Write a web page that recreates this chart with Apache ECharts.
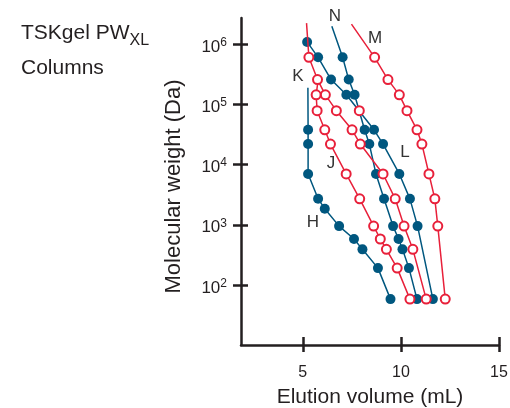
<!DOCTYPE html>
<html><head><meta charset="utf-8">
<script src="https://cdn.jsdelivr.net/npm/echarts@6/dist/echarts.min.js"></script>
<style>html,body{margin:0;padding:0;background:#fff}#c{width:510px;height:408px}</style>
</head><body><div id="c"></div>
<script>
// Elution volume (mL) and molecular weight (Da) for each column curve.
const H_vol = [5.26, 5.27, 5.27, 5.27, 5.78, 6.12, 6.85, 7.61, 8.04, 8.83, 9.47];
const H_mw  = [1.9e5, 3.8e4, 2.2e4, 7000, 2700, 1850, 950, 580, 390, 190, 58];
const J_vol = [5.77, 5.68, 5.73, 6.12, 6.41, 7.21, 7.90, 8.61, 8.95, 9.26, 9.81, 10.46];
const J_mw  = [2.4e5, 1.45e5, 7.9e4, 3.8e4, 2.2e4, 7000, 2700, 950, 580, 390, 190, 58];
const K_vol = [5.19, 5.31, 5.75, 6.15, 6.71, 7.51, 7.93, 9.09, 9.71, 10.16, 10.61, 11.29];
const K_mw  = [2.26e6, 6.1e5, 2.6e5, 1.45e5, 7.9e4, 3.8e4, 2.2e4, 7000, 2700, 950, 390, 58];
const L_vol = [5.22, 5.78, 6.44, 7.22, 8.63, 9.09, 9.92, 10.46, 10.85, 11.63];
const L_mw  = [1.1e6, 6.1e5, 2.6e5, 1.45e5, 3.8e4, 2.2e4, 7000, 2700, 950, 58];
const M_vol = [7.48, 8.66, 9.34, 9.92, 10.31, 10.82, 11.07, 11.43, 11.73, 11.88, 12.26];
const M_mw  = [2.17e6, 6.1e5, 2.6e5, 1.45e5, 7.9e4, 3.8e4, 2.2e4, 7000, 2700, 950, 58];
const N_vol = [6.48, 7.03, 7.34, 7.64, 8.15, 8.39, 8.73, 9.14, 9.60, 9.88, 10.08, 10.41, 10.82];
const N_mw  = [2.0e6, 6.1e5, 2.6e5, 1.45e5, 3.8e4, 2.2e4, 7000, 2700, 950, 580, 390, 190, 58];
const extra_vol = [7.88];
const extra_mw  = [7.9e4];
// first point of these curves is a line end without a marker
const noMarkerStart = {H: true, J: true, K: true, L: false, M: true, N: true};
const curveColor = {H: 'blue', J: 'red', K: 'red', L: 'blue', M: 'red', N: 'blue'};
const xTicks = [5, 10, 15];
const yTicks = [100, 1000, 10000, 100000, 1000000];

const BLUE = '#00577f', RED = '#e8203a', INK = '#231f20';
const FONT = 'Liberation Sans, Arial, sans-serif';
const curves = {H: [H_vol, H_mw], J: [J_vol, J_mw], K: [K_vol, K_mw], L: [L_vol, L_mw], M: [M_vol, M_mw], N: [N_vol, N_mw]};

function makeSeries(name, vol, mw, skipFirst) {
  const isBlue = curveColor[name] === 'blue';
  const data = vol.map((v, i) => {
    const d = {value: [v, mw[i]]};
    if (skipFirst && i === 0) d.symbol = 'none';
    return d;
  });
  return {
    name, type: 'line', data, xAxisIndex: 0, yAxisIndex: 0,
    symbol: isBlue ? 'circle' : 'emptyCircle',
    symbolSize: isBlue ? 10 : 9,
    showAllSymbol: true,
    lineStyle: {color: isBlue ? BLUE : RED, width: 1.5},
    itemStyle: {color: isBlue ? BLUE : RED, borderWidth: isBlue ? 0 : 1.5, borderColor: isBlue ? BLUE : RED},
    emphasis: {disabled: true}, animation: false, z: isBlue ? 2 : 3
  };
}
const series = Object.keys(curves).map(k => makeSeries(k, curves[k][0], curves[k][1], noMarkerStart[k]));
series.push({type: 'scatter', data: extra_vol.map((v, i) => [v, extra_mw[i]]), symbol: 'emptyCircle', symbolSize: 9,
  itemStyle: {color: RED, borderColor: RED, borderWidth: 1.5, opacity: 1}, emphasis: {disabled: true}, z: 4, animation: false});

const yMin = 10, yMax = 2.75e6, xMin = 1.85, xMax = 15;
const sup = v => '{b|10}{s|' + Math.round(Math.log10(v)) + '}';
const chart = echarts.init(document.getElementById('c'), null, {renderer: 'canvas'});
chart.setOption({
  animation: false,
  backgroundColor: '#fff',
  title: {
    text: '{a|TSKgel PW}{b|XL}\n{a|Columns}', left: 16, top: 11,
    textStyle: {fontWeight: 'normal', rich: {
      a: {fontFamily: FONT, fontSize: 21, fontWeight: 'normal', color: INK, lineHeight: 35},
      b: {fontFamily: FONT, fontSize: 16, fontWeight: 'normal', color: INK, padding: [14, 0, 0, 0], lineHeight: 35}
    }}
  },
  grid: {left: 241, right: 11, top: 18, bottom: 63, containLabel: false, outerBoundsMode: 'none'},
  xAxis: [{
    type: 'value', min: xMin, max: xMax, position: 'bottom',
    name: 'Elution volume (mL)', nameLocation: 'middle', nameGap: 42,
    nameTextStyle: {fontFamily: FONT, fontSize: 21, color: INK},
    axisLine: {show: true, onZero: false, lineStyle: {color: INK, width: 2.5}},
    axisTick: {show: true, inside: false, length: 7, lineStyle: {color: INK, width: 2.5}, customValues: xTicks},
    axisLabel: {fontFamily: FONT, fontSize: 16, color: INK, margin: 20, customValues: xTicks},
    splitLine: {show: false}
  }, {
    type: 'value', min: xMin, max: xMax, position: 'bottom',
    axisLine: {show: false, onZero: false},
    axisTick: {show: true, inside: true, length: 8, lineStyle: {color: INK, width: 2.5}, customValues: xTicks},
    axisLabel: {show: false}, splitLine: {show: false}
  }],
  yAxis: [{
    type: 'log', logBase: 10, min: yMin, max: yMax, position: 'left',
    name: 'Molecular weight (Da)', nameLocation: 'middle', nameGap: 56, nameRotate: 90,
    nameTextStyle: {fontFamily: FONT, fontSize: 22, color: INK, padding: [0, 10, 0, 0]},
    axisLine: {show: true, onZero: false, lineStyle: {color: INK, width: 2.5}},
    axisTick: {show: true, inside: false, length: 8, lineStyle: {color: INK, width: 2.5}, customValues: yTicks},
    axisLabel: {margin: 14, customValues: yTicks, formatter: sup, padding: [6, 0, 0, 0], rich: {
      b: {fontFamily: FONT, fontSize: 17, color: INK},
      s: {fontFamily: FONT, fontSize: 12, color: INK, padding: [0, 0, 9, 0]}
    }},
    splitLine: {show: false}
  }, {
    type: 'log', logBase: 10, min: yMin, max: yMax, position: 'left',
    axisLine: {show: false, onZero: false},
    axisTick: {show: true, inside: true, length: 7, lineStyle: {color: INK, width: 2.5}, customValues: yTicks},
    axisLabel: {show: false}, splitLine: {show: false}
  }],
  graphic: [
    ['N', 335, 16], ['M', 375, 38], ['K', 298, 76], ['L', 405, 152], ['J', 331, 163], ['H', 313, 222]
  ].map(([t, x, y]) => ({type: 'text', x, y, silent: true, z: 10,
    style: {text: t, font: '17px ' + FONT, fill: '#333', align: 'center', verticalAlign: 'middle'}})),
  series
});
</script></body></html>
